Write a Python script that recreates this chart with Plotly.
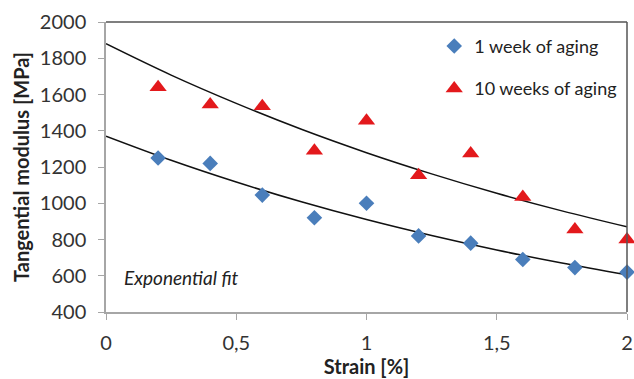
import plotly.graph_objects as go

# ---- data ----
strain = [0.2, 0.4, 0.6, 0.8, 1.0, 1.2, 1.4, 1.6, 1.8, 2.0]
week1 = [1250, 1220, 1045, 920, 1000, 820, 780, 690, 645, 620]
week10 = [1640, 1545, 1535, 1290, 1455, 1155, 1275, 1035, 855, 800]

fit_x = [0, 0.25, 0.5, 0.75, 1.0, 1.25, 1.5, 1.75, 2.0]
fit_week1 = [1370, 1237, 1117, 1008, 910, 822, 742, 670, 605]
fit_week10 = [1880, 1707, 1551, 1408, 1279, 1162, 1055, 958, 870]

x_tickvals = [0, 0.5, 1, 1.5, 2]
x_ticktext = ["0", "0,5", "1", "1,5", "2"]
y_tickvals = [400, 600, 800, 1000, 1200, 1400, 1600, 1800, 2000]

FONT = "Lato"
BLUE = "#4A7EBB"
RED = "#E3191C"

fig = go.Figure()

fig.add_trace(go.Scatter(x=fit_x, y=fit_week10, mode="lines", line=dict(color="#111111", width=1.5, shape="spline"),
                         showlegend=False, hoverinfo="skip"))
fig.add_trace(go.Scatter(x=fit_x, y=fit_week1, mode="lines", line=dict(color="#111111", width=1.5, shape="spline"),
                         showlegend=False, hoverinfo="skip"))

fig.add_trace(go.Scatter(x=strain, y=week1, mode="markers", name="1 week of aging", legendgroup="a",
                         marker=dict(symbol="diamond", size=12, color=BLUE), cliponaxis=False))
fig.add_trace(go.Scatter(x=strain, y=week10, mode="markers", name="10 weeks of aging", legendgroup="b",
                         marker=dict(symbol="triangle-up", size=15, color=RED), cliponaxis=False))

fig.add_annotation(x=0.06, y=590, xref="x", yref="y", text="<i>Exponential fit</i>", showarrow=False,
                   xanchor="left", yanchor="middle", font=dict(family=FONT, size=19, color="#222222"))

# top and right frame
fig.add_shape(type="line", xref="paper", yref="paper", x0=0, x1=1, y0=1, y1=1, line=dict(color="#555555", width=1.5))
fig.add_shape(type="line", xref="paper", yref="paper", x0=1, x1=1, y0=0, y1=1, line=dict(color="#555555", width=1.5))

fig.update_layout(
    width=634, height=379,
    margin=dict(l=106, r=7, t=22, b=67),
    paper_bgcolor="white", plot_bgcolor="white",
    font=dict(family=FONT, size=20, color="#333333"),
    legend=dict(x=0.630, y=0.98, xanchor="left", yanchor="top", bgcolor="rgba(0,0,0,0)",
                font=dict(family=FONT, size=18, color="#222222"), tracegroupgap=16),
    xaxis=dict(range=[0, 2], tickvals=x_tickvals, ticktext=x_ticktext, showgrid=False, zeroline=False,
               showline=True, linecolor="#A6A6A6", linewidth=1.5, ticks="outside", ticklen=6, tickcolor="#A6A6A6",
               ticklabelstandoff=6, automargin=False,
               tickfont=dict(family=FONT, size=20, color="#333333"),
               title=dict(text="<b>Strain [%]</b>", font=dict(family=FONT, size=20, color="#222222"), standoff=4)),
    yaxis=dict(range=[400, 2000], tickvals=y_tickvals, showgrid=False, zeroline=False,
               showline=True, linecolor="#A6A6A6", linewidth=1.5, ticks="outside", ticklen=6, tickcolor="#A6A6A6",
               ticklabelstandoff=8, automargin=False,
               tickfont=dict(family=FONT, size=20, color="#333333"),
               title=dict(text="<b>Tangential modulus [MPa]</b>", font=dict(family=FONT, size=20, color="#222222"), standoff=5)),
)

fig.write_html("out.html")
